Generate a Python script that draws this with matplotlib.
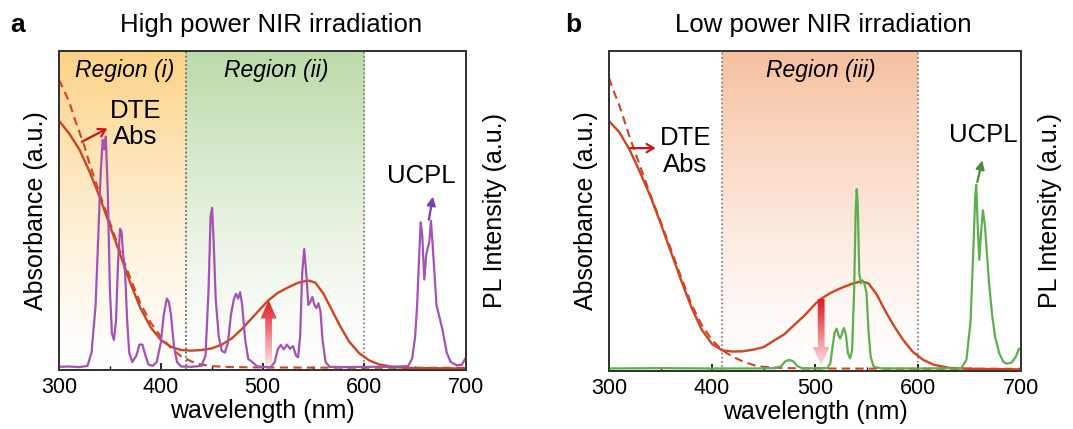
import matplotlib.pyplot as plt
import numpy as np
from matplotlib.colors import LinearSegmentedColormap
from matplotlib.patches import Polygon

plt.rcParams['font.family'] = ['Liberation Sans', 'DejaVu Sans']

# absorbance of DTE (solid: after irradiation, dashed: before)
wl_abs_a = [300, 310, 320, 330, 340, 350, 360, 370, 380, 390, 400, 410, 420, 430, 440,
            450, 460, 470, 480, 490, 500, 506, 515, 525, 535, 545, 552, 560, 568, 576,
            585, 595, 605, 615, 630, 650, 700]
abs_a = [0.78, 0.74, 0.69, 0.62, 0.54, 0.45, 0.36, 0.27, 0.19, 0.13, 0.09, 0.068, 0.058,
         0.056, 0.058, 0.063, 0.075, 0.095, 0.125, 0.16, 0.195, 0.215, 0.238, 0.255, 0.27,
         0.277, 0.27, 0.235, 0.185, 0.135, 0.085, 0.048, 0.025, 0.012, 0.004, 0.001, 0.0]
wl_abs_b = wl_abs_a
abs_b = [0.78, 0.745, 0.69, 0.62, 0.545, 0.46, 0.37, 0.28, 0.195, 0.125, 0.08, 0.06, 0.056,
         0.057, 0.062, 0.07, 0.09, 0.11, 0.14, 0.17, 0.205, 0.222, 0.24, 0.255, 0.268,
         0.277, 0.27, 0.235, 0.185, 0.14, 0.095, 0.055, 0.03, 0.015, 0.005, 0.002, 0.0]

wl_dash = [300, 305, 310, 315, 320, 325, 330, 340, 350, 360, 370, 380, 390, 400, 410,
           420, 430, 440, 450, 470, 500, 600, 700]
dash_a = [0.91, 0.875, 0.84, 0.79, 0.745, 0.70, 0.645, 0.55, 0.46, 0.37, 0.285, 0.205,
          0.145, 0.10, 0.065, 0.038, 0.022, 0.012, 0.007, 0.004, 0.003, 0.002, 0.002]
dash_b = [0.915, 0.87, 0.83, 0.78, 0.73, 0.685, 0.64, 0.55, 0.465, 0.378, 0.29, 0.205,
          0.14, 0.092, 0.06, 0.04, 0.025, 0.014, 0.008, 0.004, 0.003, 0.002, 0.002]

# upconversion PL, high power
wl_pl_a = [300, 310, 320, 328, 332, 336, 339, 341, 343, 344.5, 346, 348, 350, 352, 354,
           356, 358, 360, 361.5, 363, 365, 367, 369, 372, 376, 379, 382, 385, 388, 392,
           396, 400, 403, 406, 408, 410, 413, 416, 420, 430, 440, 444, 447, 449, 450.5,
           452, 454, 457, 460, 463, 466, 469, 472, 474, 476, 478, 480, 483, 486, 490,
           495, 500, 508, 512, 515, 518, 521, 524, 527, 530, 533, 535, 537, 539, 541,
           543, 545, 547, 549, 551, 553, 555, 557, 559, 562, 566, 580, 600, 620, 643,
           647, 650, 652, 654, 655.5, 657, 659, 661, 662.5, 664, 665.5, 667, 669, 671,
           674, 677, 681, 685, 691, 696, 700]
pl_a = [0.005, 0.006, 0.004, 0.008, 0.05, 0.2, 0.45, 0.62, 0.72, 0.69, 0.73, 0.55, 0.25,
        0.11, 0.09, 0.15, 0.33, 0.44, 0.43, 0.36, 0.3, 0.15, 0.05, 0.02, 0.04, 0.075,
        0.075, 0.04, 0.012, 0.008, 0.02, 0.08, 0.17, 0.22, 0.21, 0.17, 0.07, 0.02,
        0.006, 0.005, 0.008, 0.04, 0.25, 0.48, 0.506, 0.4, 0.22, 0.1, 0.055, 0.05, 0.08,
        0.17, 0.22, 0.235, 0.22, 0.24, 0.2, 0.09, 0.03, 0.02, 0.006, 0.005, 0.004, 0.02,
        0.06, 0.074, 0.06, 0.075, 0.062, 0.07, 0.04, 0.035, 0.1, 0.3, 0.376, 0.3, 0.2,
        0.21, 0.225, 0.2, 0.19, 0.205, 0.18, 0.09, 0.02, 0.005, 0.004, 0.005, 0.005,
        0.007, 0.03, 0.1, 0.2, 0.36, 0.46, 0.42, 0.28, 0.36, 0.38, 0.40, 0.465, 0.40,
        0.3, 0.2, 0.16, 0.12, 0.05, 0.02, 0.01, 0.012, 0.035]

# upconversion PL, low power
wl_pl_b = [300, 350, 400, 440, 462, 467, 471, 475, 479, 483, 488, 512, 515, 517, 519, 521,
           523, 524.5, 526, 528, 530, 532, 534, 536, 538, 539.5, 540.5, 541.5, 543,
           544.5, 546, 548, 550, 552, 554, 557, 565, 600, 642, 647, 651, 654, 655.5, 656.5,
           658, 659.5, 661, 663, 665, 669, 672, 675, 679, 683, 687, 691, 695, 698, 700]
pl_b = [0.003, 0.004, 0.003, 0.003, 0.004, 0.01, 0.025, 0.03, 0.025, 0.01, 0.003, 0.004,
        0.02, 0.07, 0.115, 0.128, 0.105, 0.097, 0.11, 0.13, 0.11, 0.05, 0.035, 0.06, 0.25,
        0.5, 0.566, 0.52, 0.3, 0.27, 0.28, 0.27, 0.24, 0.12, 0.04, 0.008, 0.003, 0.003,
        0.004, 0.03, 0.15, 0.4, 0.54, 0.58, 0.45, 0.344, 0.42, 0.5, 0.45, 0.27, 0.17, 0.1,
        0.05, 0.023, 0.018, 0.022, 0.04, 0.065, 0.06]

abs_color = '#D0451F'
ticks = [300, 400, 500, 600, 700]
arrow_cmap = LinearSegmentedColormap.from_list('arr', ['#FCE3E5', '#F07C86', '#E01820'])


def shade(ax, x0, x1, top_color):
    cmap = LinearSegmentedColormap.from_list('g', ['white', top_color])
    grad = np.linspace(0, 1, 256).reshape(-1, 1) ** 1.3
    ax.imshow(grad, extent=(x0, x1, -0.005, 1), origin='lower', aspect='auto',
              cmap=cmap, vmin=0, vmax=1, zorder=0)
    for xv in (x0, x1):
        if xv not in (300, 700):
            ax.axvline(xv, color='#777777', ls=(0, (1, 1.5)), lw=1.2, zorder=1)


def setup(ax):
    ax.set_xlim(300, 700)
    ax.set_ylim(-0.005, 1)
    ax.set_xticks(ticks)
    ax.set_xticks(np.arange(350, 700, 100), minor=True)
    ax.set_yticks([])
    ax.tick_params(axis='x', which='major', direction='in', length=5, width=1.2,
                   labelsize=15.5, pad=5, top=False)
    ax.tick_params(axis='x', which='minor', direction='in', length=3, width=1.0, top=False)
    for s in ax.spines.values():
        s.set_color('#333333')
        s.set_linewidth(1.3)
    ax.set_xlabel('wavelength (nm)', fontsize=18, labelpad=1)
    ax.set_ylabel('Absorbance (a.u.)', fontsize=18, labelpad=8)
    ax2 = ax.twinx()
    ax2.set_ylim(-0.005, 1)
    ax2.set_yticks([])
    ax2.set_ylabel('PL Intensity (a.u.)', fontsize=18, labelpad=12)
    for s in ax2.spines.values():
        s.set_color('#333333')
        s.set_linewidth(1.3)
    return ax2


def grad_arrow(ax, x, y_from, y_to):
    # arrow outline filled with a pink-to-red vertical gradient
    head = 0.058
    d = 1 if y_to > y_from else -1
    yh = y_to - d * head
    pts = [(x - 3.3, y_from), (x + 3.3, y_from), (x + 3.3, yh), (x + 8, yh), (x, y_to),
           (x - 8, yh), (x - 3.3, yh)]
    poly = Polygon(pts, closed=True, facecolor='none', edgecolor='none')
    ax.add_patch(poly)
    lo, hi = min(y_from, y_to), max(y_from, y_to)
    grad = np.linspace(0, 1, 128).reshape(-1, 1)
    im = ax.imshow(grad, extent=(x - 9, x + 9, lo, hi), origin='lower', aspect='auto',
                   cmap=arrow_cmap, vmin=0, vmax=1, zorder=4)
    im.set_clip_path(poly)


fig = plt.figure(figsize=(10.73, 4.29), dpi=100)
axa = fig.add_axes([59 / 1073, 59 / 429, 407 / 1073, 319 / 429])
axb = fig.add_axes([609 / 1073, 58 / 429, 412 / 1073, 320 / 429])

# panel a
shade(axa, 300, 425, '#FCD285')
shade(axa, 425, 600, '#BBDAA8')
axa2 = setup(axa)
axa.plot(wl_abs_a, abs_a, color=abs_color, lw=1.7, zorder=3)
axa.plot(wl_dash, dash_a, color=abs_color, lw=1.5, ls=(0, (4, 2.5)), zorder=3)
axa2.plot(wl_pl_a, pl_a, color='#A452B4', lw=1.6, zorder=2)
grad_arrow(axa, 506, 0.012, np.interp(506, wl_abs_a, abs_a))
axa.annotate('', xy=(350, 0.76), xytext=(320, 0.71),
             arrowprops=dict(arrowstyle='->,head_length=0.5,head_width=0.3',
                             color='#C8161D', lw=1.6), zorder=5)
axa2.annotate('', xy=(668, 0.55), xytext=(663, 0.46),
              arrowprops=dict(arrowstyle='-|>,head_length=0.5,head_width=0.25',
                              color='#7A3FAE', lw=1.6))
axa.text(375, 0.77, 'DTE\nAbs', ha='center', va='center', fontsize=18.5, linespacing=1.15,
         zorder=6)
axa.text(656, 0.607, 'UCPL', ha='center', va='center', fontsize=18.5, zorder=6)
axa.text(365, 0.94, 'Region (i)', ha='center', va='center', fontsize=16.5,
         style='italic', zorder=6)
axa.text(514, 0.94, 'Region (ii)', ha='center', va='center', fontsize=16.5,
         style='italic', zorder=6)

# panel b
shade(axb, 410, 600, '#F6C09F')
axb2 = setup(axb)
axb.plot(wl_abs_b, abs_b, color=abs_color, lw=1.7, zorder=3)
axb.plot(wl_dash, dash_b, color=abs_color, lw=1.5, ls=(0, (4, 2.5)), zorder=3)
axb2.plot(wl_pl_b, pl_b, color='#5DAF4E', lw=1.6, zorder=2)
grad_arrow(axb, 506, np.interp(506, wl_abs_b, abs_b), 0.012)
axb.annotate('', xy=(348, 0.695), xytext=(318, 0.695),
             arrowprops=dict(arrowstyle='->,head_length=0.5,head_width=0.3',
                             color='#C8161D', lw=1.6), zorder=5)
axb2.annotate('', xy=(663, 0.665), xytext=(657, 0.58),
              arrowprops=dict(arrowstyle='-|>,head_length=0.5,head_width=0.25',
                              color='#4F8A3C', lw=1.6))
axb.text(374, 0.685, 'DTE\nAbs', ha='center', va='center', fontsize=18.5, linespacing=1.15,
         zorder=6)
axb.text(663, 0.737, 'UCPL', ha='center', va='center', fontsize=18.5, zorder=6)
axb.text(506, 0.94, 'Region (iii)', ha='center', va='center', fontsize=16.5,
         style='italic', zorder=6)

fig.text(271 / 1073, 1 - 25 / 429, 'High power NIR irradiation', ha='center', va='center',
         fontsize=18.5)
fig.text(823 / 1073, 1 - 25 / 429, 'Low power NIR irradiation', ha='center', va='center',
         fontsize=18.5)
fig.text(18 / 1073, 1 - 25 / 429, 'a', ha='center', va='center', fontsize=19,
         fontweight='bold')
fig.text(573 / 1073, 1 - 25 / 429, 'b', ha='center', va='center', fontsize=19,
         fontweight='bold')

fig.savefig('out.png', dpi=100)
